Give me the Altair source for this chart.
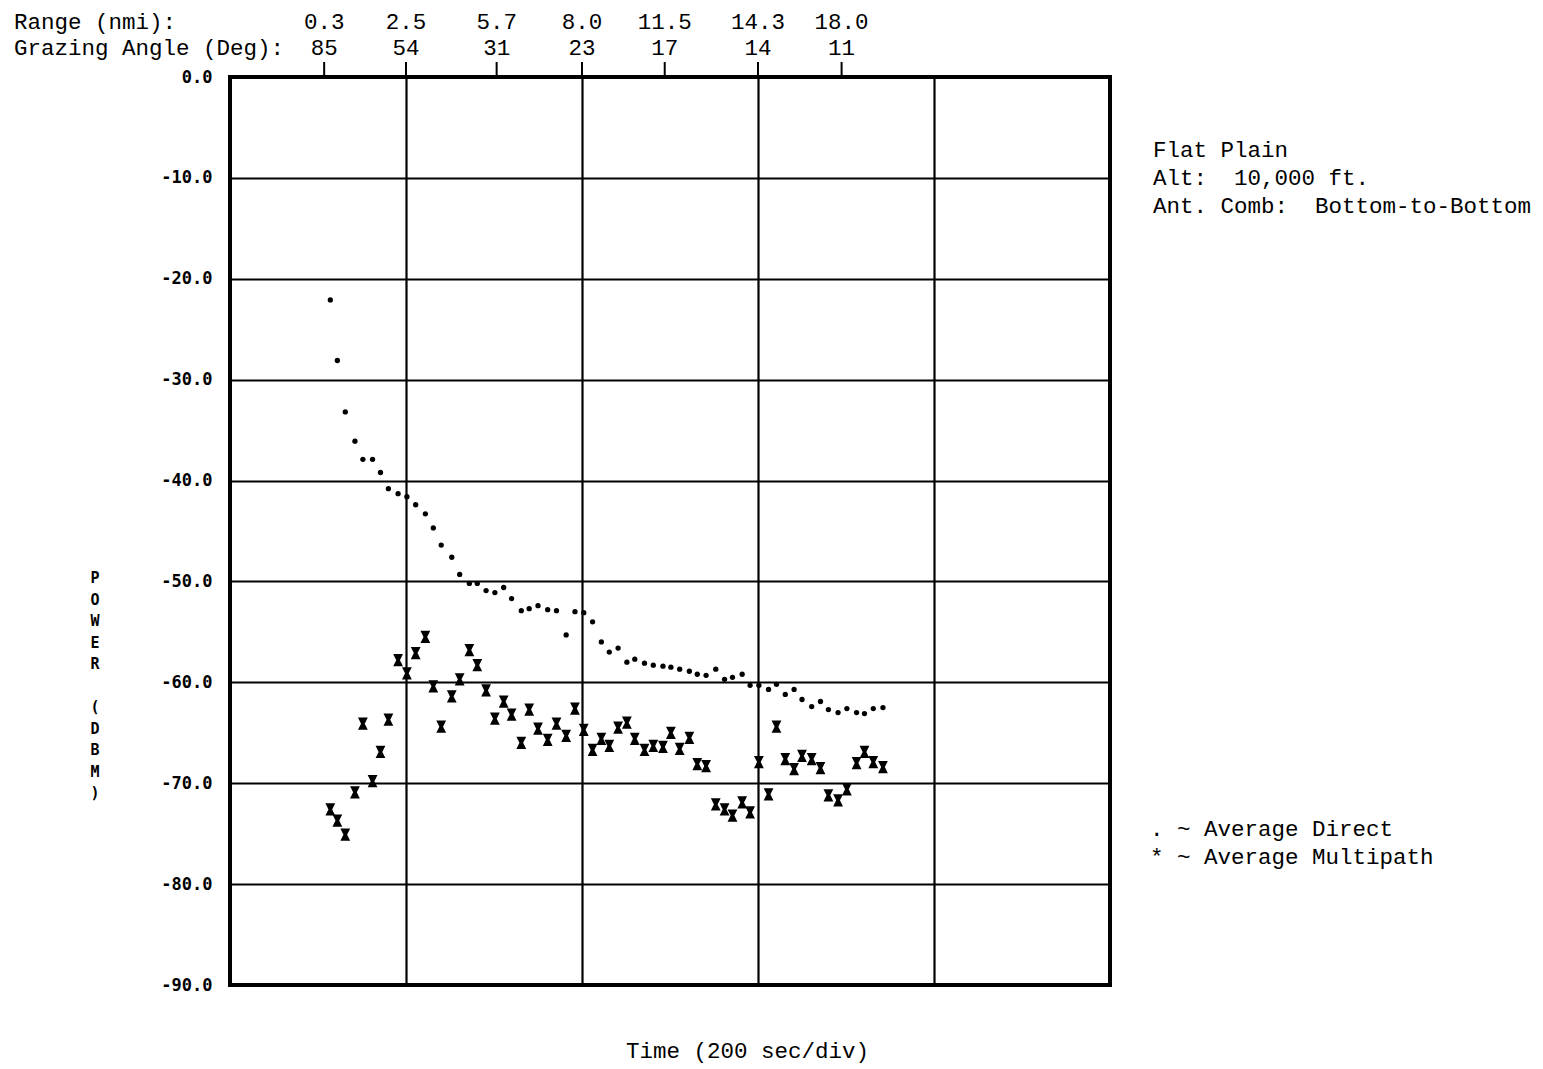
import altair as alt
import pandas as pd

# ---- data ----
time_s = [114, 122, 131, 142, 151, 162, 171, 180, 191, 201,
          211, 222, 231, 240, 252, 261, 272, 281, 291, 301,
          311, 320, 331, 340, 350, 361, 371, 382, 392, 402,
          412, 422, 431, 441, 451, 460, 471, 481, 492, 501,
          511, 522, 531, 541, 552, 562, 571, 582, 591, 601,
          612, 621, 631, 641, 650, 661, 671, 680, 691, 701,
          712, 721, 731, 742]

direct_dbm = [-22.1, -28.1, -33.2, -36.1, -37.9, -37.9, -39.2, -40.8, -41.3, -41.6,
              -42.4, -43.3, -44.7, -46.4, -47.6, -49.3, -50.2, -50.2, -50.9, -51.1,
              -50.6, -51.7, -52.9, -52.7, -52.4, -52.8, -52.9, -55.3, -53.0, -53.1,
              -54.0, -56.0, -57.0, -56.6, -58.0, -57.7, -58.1, -58.3, -58.4, -58.5,
              -58.7, -58.9, -59.2, -59.3, -58.7, -59.7, -59.5, -59.2, -60.3, -60.3,
              -60.7, -60.2, -61.2, -60.7, -61.7, -62.4, -61.9, -62.7, -63.0, -62.6,
              -63.0, -63.1, -62.6, -62.5]

multipath_dbm = [-72.6, -73.7, -75.1, -70.9, -64.1, -69.8, -66.9, -63.7, -57.8, -59.1,
                 -57.1, -55.5, -60.4, -64.4, -61.4, -59.7, -56.8, -58.3, -60.8, -63.6,
                 -61.9, -63.2, -66.0, -62.7, -64.6, -65.7, -64.1, -65.3, -62.6, -64.7,
                 -66.7, -65.6, -66.3, -64.5, -64.0, -65.6, -66.7, -66.3, -66.4, -65.0,
                 -66.6, -65.5, -68.1, -68.3, -72.1, -72.6, -73.2, -71.9, -72.9, -67.9,
                 -71.1, -64.4, -67.6, -68.6, -67.3, -67.6, -68.5, -71.2, -71.7, -70.6,
                 -68.0, -66.9, -67.9, -68.4]

series_names = ["Average Direct", "Average Multipath"]

top_tick_time = [107, 200, 303, 400, 494, 600, 695]
range_nmi = ["0.3", "2.5", "5.7", "8.0", "11.5", "14.3", "18.0"]
grazing_deg = ["85", "54", "31", "23", "17", "14", "11"]

note_lines = ["Flat Plain", "Alt:  10,000 ft.", "Ant. Comb:  Bottom-to-Bottom"]
legend_lines = [". ~ Average Direct", "* ~ Average Multipath"]
y_title_words = ["POWER", "(DBM)"]
x_title = "Time (200 sec/div)"

# ---- chart ----
W, H = 880, 908
TYPE = "Liberation Mono"
BOLD = "DejaVu Sans Mono"
NB = "\u00a0"


def nb(s):
    return s.replace(" ", NB)


pts = pd.DataFrame({
    "t": time_s + time_s,
    "dbm": direct_dbm + multipath_dbm,
    "series": [series_names[0]] * len(time_s) + [series_names[1]] * len(time_s),
})

x_scale = alt.Scale(domain=[0, 1000], nice=False, zero=False)
y_scale = alt.Scale(domain=[-90, 0], nice=False, zero=False)

hourglass = "M-0.8,-1L0.8,-1L0.3,0L0.8,1L-0.8,1L-0.3,0Z"

points = alt.Chart(pts).mark_point(filled=True, opacity=1, color="black", strokeWidth=0).encode(
    x=alt.X("t:Q", scale=x_scale, axis=alt.Axis(
        values=[0, 200, 400, 600, 800, 1000], labels=False, ticks=False, domain=False,
        grid=True, gridColor="black", gridWidth=2.2, gridOpacity=1,
        title=x_title, titleFont=TYPE, titleFontSize=22.5, titleFontWeight="normal",
        titleColor="black", titleX=517, titleY=72, titleAlign="center",
        titleBaseline="alphabetic")),
    y=alt.Y("dbm:Q", scale=y_scale, axis=alt.Axis(
        values=list(range(-90, 1, 10)),
        labelExpr="replace(format(datum.value, '.1f'), '\u2212', '-')",
        labelFont=BOLD, labelFontWeight="bold", labelFontSize=17, labelColor="black",
        labelPadding=18, ticks=False, domain=False,
        grid=True, gridColor="black", gridWidth=2, gridOpacity=1,
        title=None)),
    shape=alt.Shape("series:N", scale=alt.Scale(domain=series_names, range=["circle", hourglass]), legend=None),
    size=alt.Size("series:N", scale=alt.Scale(domain=series_names, range=[28, 150]), legend=None),
)

ticks_df = pd.DataFrame({"t": top_tick_time, "rng": range_nmi, "ang": grazing_deg})

top_ticks = alt.Chart(ticks_df).mark_rule(color="black", strokeWidth=2).encode(
    x=alt.X("t:Q", scale=x_scale), y=alt.value(-15), y2=alt.value(0))

range_labels = alt.Chart(ticks_df).mark_text(
    font=TYPE, fontSize=22.5, color="black", align="center", baseline="alphabetic").encode(
    x=alt.X("t:Q", scale=x_scale), y=alt.value(-48), text="rng:N")

angle_labels = alt.Chart(ticks_df).mark_text(
    font=TYPE, fontSize=22.5, color="black", align="center", baseline="alphabetic").encode(
    x=alt.X("t:Q", scale=x_scale), y=alt.value(-22), text="ang:N")

one = pd.DataFrame({"k": [0]})

range_head = alt.Chart(one).mark_text(
    font=TYPE, fontSize=22.5, color="black", align="left", baseline="alphabetic",
    text=nb("Range (nmi):")).encode(x=alt.value(-216), y=alt.value(-48))

angle_head = alt.Chart(one).mark_text(
    font=TYPE, fontSize=22.5, color="black", align="left", baseline="alphabetic",
    text=nb("Grazing Angle (Deg):")).encode(x=alt.value(-216), y=alt.value(-22))

notes = alt.Chart(one).mark_text(
    font=TYPE, fontSize=22.5, color="black", align="left", baseline="alphabetic",
    lineHeight=28, text=[nb(s) for s in note_lines]).encode(x=alt.value(923), y=alt.value(80))

legend_txt = alt.Chart(one).mark_text(
    font=TYPE, fontSize=22.5, color="black", align="left", baseline="alphabetic",
    lineHeight=28, text=[nb(s) for s in legend_lines]).encode(x=alt.value(920), y=alt.value(759))

ytitle_a = alt.Chart(one).mark_text(
    font=BOLD, fontWeight="bold", fontSize=15, color="black", align="center", baseline="top",
    lineHeight=21.5, text=list(y_title_words[0])).encode(x=alt.value(-135), y=alt.value(494))

ytitle_b = alt.Chart(one).mark_text(
    font=BOLD, fontWeight="bold", fontSize=15, color="black", align="center", baseline="top",
    lineHeight=21.5, text=list(y_title_words[1])).encode(x=alt.value(-135), y=alt.value(623))

chart = alt.layer(
    points, top_ticks, range_labels, angle_labels, range_head, angle_head, notes, legend_txt,
    ytitle_a, ytitle_b
).properties(
    width=W, height=H,
    autosize=alt.AutoSizeParams(type="none"),
    padding={"left": 222, "top": 69, "right": 425, "bottom": 80},
).configure(
    background="white"
).configure_view(
    stroke="black", strokeWidth=4
)

chart.save("out.html", embed_options={"renderer": "svg", "actions": False})
